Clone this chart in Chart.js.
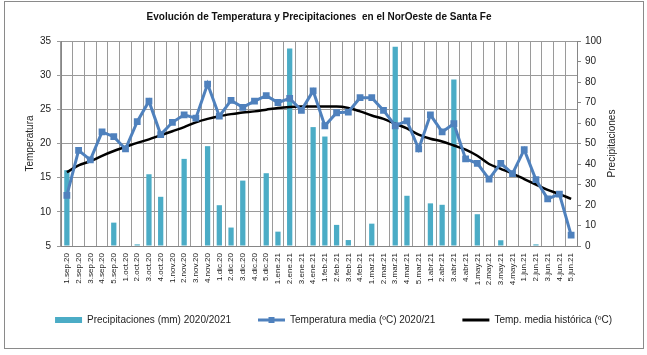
<!DOCTYPE html>
<html><head><meta charset="utf-8">
<script src="https://cdn.jsdelivr.net/npm/chart.js@4/dist/chart.umd.min.js"></script>
<style>
html,body{margin:0;padding:0;background:#fff;}
#wrap{position:relative;width:647px;height:355px;}
#frame{position:absolute;left:4px;top:1px;width:640px;height:348px;border:1px solid #8a8a8a;box-sizing:border-box;pointer-events:none;}
canvas{position:absolute;left:0;top:0;}
</style></head><body>
<div id="wrap"><canvas id="c" width="647" height="355"></canvas><div id="frame"></div></div>
<script>
const chartTitle = 'Evolución de Temperatura y Precipitaciones  en el NorOeste de Santa Fe';
const leftTitle = 'Temperatura';
const rightTitle = 'Precipitaciones';
const categories = ['1.sep.20','2.sep.20','3.sep.20','4.sep.20','5.sep.20','1.oct.20','2.oct.20','3.oct.20','4.oct.20',
 '1.nov.20','2.nov.20','3.nov.20','4.nov.20','1.dic.20','2.dic.20','3.dic.20','4.dic.20','5.dic.20',
 '1.ene.21','2.ene.21','3.ene.21','4.ene.21','1.feb.21','2.feb.21','3.feb.21','4.feb.21',
 '1.mar.21','2.mar.21','3.mar.21','4.mar.21','5.mar.21','1.abr.21','2.abr.21','3.abr.21','4.abr.21',
 '1.may.21','2.may.21','3.may.21','4.may.21','1.jun.21','2.jun.21','3.jun.21','4.jun.21','5.jun.21'];
const precipLabel = 'Precipitaciones (mm) 2020/2021';
const precip = [37, 0, 0, 0, 11.4, 0, 0.8, 35, 24, 0,
 42.5, 0, 48.7, 19.9, 9, 31.9, 0, 35.5, 7, 96.4,
 0, 58, 53.4, 10.3, 2.9, 0, 10.9, 0, 97.2, 24.5,
 0, 20.8, 20.1, 81.2, 0, 15.5, 0, 2.8, 0, 0,
 0.8, 0, 0, 0];
const tempLabel = 'Temperatura media (ºC) 2020/21';
const temp = [12.4, 19.0, 17.6, 21.7, 21.0, 19.2, 23.2, 26.2, 21.3, 23.1,
 24.2, 23.7, 28.7, 24.0, 26.3, 25.3, 26.2, 27.0, 26.0, 26.6,
 24.85, 27.7, 22.6, 24.5, 24.6, 26.7, 26.7, 24.85, 22.6, 23.3,
 19.2, 24.2, 21.7, 22.9, 17.75, 17.1, 14.8, 17.1, 15.6, 19.1,
 14.7, 11.9, 12.6, 6.6];
const histLabel = 'Temp. media histórica (ºC)';
const hist = [15.8, 16.8, 17.4, 18.2, 18.9, 19.5, 20.1, 20.6, 21.2, 21.8,
 22.4, 23.1, 23.6, 24.0, 24.3, 24.55, 24.7, 24.95, 25.2, 25.35,
 25.4, 25.4, 25.4, 25.4, 25.2, 24.7, 24.1, 23.6, 22.9, 22.2,
 21.3, 20.7, 20.3, 19.7, 19.1, 18.2, 17.0, 16.3, 15.6, 14.8,
 14.0, 13.2, 12.6, 11.9];
const tempTicks = {min: 5, max: 35, step: 5};
const precipTicks = {min: 0, max: 100, step: 10};

const FONT = "'Liberation Sans', Arial, sans-serif";
const BAR = '#4bacc6', BLUE = '#4f81bd', GRID = '#9a9a9a', AXIS = '#868686';

const rightTitlePlugin = {
  id: 'rightTitle',
  afterDraw(chart) {
    const ctx = chart.ctx, a = chart.chartArea, s = chart.scales.y1;
    ctx.save();
    ctx.translate(s.left + 35, (a.top + a.bottom) / 2);
    ctx.rotate(-Math.PI / 2);
    ctx.font = '10px ' + FONT;
    ctx.fillStyle = '#222';
    ctx.textAlign = 'center';
    ctx.textBaseline = 'middle';
    ctx.fillText(rightTitle, 0, 0);
    ctx.restore();
    // square marker on temperature legend line
    const hb = chart.legend && chart.legend.legendHitBoxes && chart.legend.legendHitBoxes[1];
    if (hb) {
      ctx.save();
      ctx.fillStyle = BLUE;
      const cx = hb.left + 27 / 2, cy = hb.top + hb.height / 2;
      ctx.fillRect(cx - 3, cy - 3, 6, 6);
      ctx.restore();
    }
  }
};

new Chart(document.getElementById('c'), {
  type: 'bar',
  data: {
    labels: categories,
    datasets: [
      {type: 'bar', label: precipLabel, data: precip, yAxisID: 'y1', backgroundColor: BAR, borderWidth: 0,
       barPercentage: 0.45, categoryPercentage: 1, order: 3},
      {type: 'line', label: tempLabel, data: temp, yAxisID: 'y', borderColor: BLUE, backgroundColor: BLUE,
       borderWidth: 3, pointStyle: 'rect', pointRadius: 4.8, pointBackgroundColor: BLUE, pointBorderColor: BLUE,
       pointBorderWidth: 0, tension: 0, order: 1},
      {type: 'line', label: histLabel, data: hist, yAxisID: 'y', borderColor: '#000', backgroundColor: '#000',
       borderWidth: 2.5, pointRadius: 0, cubicInterpolationMode: 'monotone', order: 2}
    ]
  },
  options: {
    responsive: false, animation: false, devicePixelRatio: 1,
    layout: {padding: {left: 20, right: 0, top: 0, bottom: 20}},
    plugins: {
      tooltip: {enabled: false},
      title: {display: true, text: chartTitle, fullSize: false, color: '#111',
        font: {family: FONT, size: 10, weight: 'bold'}, padding: {top: 11, bottom: 18}},
      legend: {
        position: 'bottom',
        labels: {
          font: {family: FONT, size: 10}, color: '#222', padding: 27,
          usePointStyle: true, pointStyleWidth: 27, boxHeight: 6,
          generateLabels(chart) {
            return chart.data.datasets.map((ds, i) => ({
              text: ds.label, datasetIndex: i, hidden: false,
              fillStyle: i === 0 ? BAR : ds.borderColor,
              strokeStyle: i === 0 ? BAR : ds.borderColor,
              lineWidth: i === 0 ? 0 : 3,
              pointStyle: i === 0 ? 'rect' : 'line',
              fontColor: '#222'
            }));
          }
        }
      }
    },
    scales: {
      x: {
        offset: true,
        grid: {color: GRID, offset: true, drawTicks: false},
        border: {color: AXIS},
        ticks: {autoSkip: false, minRotation: 90, maxRotation: 90, padding: 7, color: '#222',
          font: {family: FONT, size: 8}},
        afterFit(s) { s.height = 42; }
      },
      y: {
        position: 'left', min: tempTicks.min, max: tempTicks.max,
        ticks: {stepSize: tempTicks.step, padding: 6, color: '#222', font: {family: FONT, size: 10}},
        grid: {color: GRID, tickLength: 4},
        border: {color: AXIS},
        title: {display: true, text: leftTitle, color: '#222', font: {family: FONT, size: 10}, padding: {top: 4, bottom: 0}},
        afterFit(s) { s.width = 41; }
      },
      y1: {
        position: 'right', min: precipTicks.min, max: precipTicks.max,
        ticks: {stepSize: precipTicks.step, padding: 4, color: '#222', font: {family: FONT, size: 10}},
        grid: {drawOnChartArea: false, color: AXIS, tickLength: 4},
        border: {color: AXIS},
        afterFit(s) { s.width = 70; }
      }
    }
  },
  plugins: [rightTitlePlugin]
});
</script>
</body></html>
